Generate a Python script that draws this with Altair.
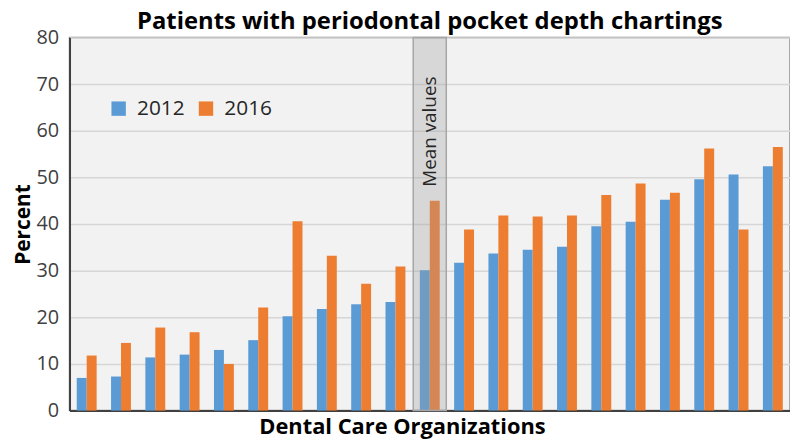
import altair as alt
import pandas as pd

categories = ["O1", "O2", "O3", "O4", "O5", "O6", "O7", "O8", "O9", "O10",
              "Mean values",
              "O11", "O12", "O13", "O14", "O15", "O16", "O17", "O18", "O19", "O20"]
values_2012 = [7.0, 7.3, 11.4, 12.0, 13.0, 15.1, 20.2, 21.8, 22.8, 23.3,
               30.1,
               31.7, 33.7, 34.5, 35.1, 39.5, 40.5, 45.2, 49.6, 50.6, 52.4]
values_2016 = [11.8, 14.5, 17.8, 16.8, 10.0, 22.1, 40.6, 33.2, 27.2, 30.9,
               45.0,
               38.8, 41.8, 41.6, 41.8, 46.2, 48.7, 46.7, 56.2, 38.8, 56.5]
years = ["2012", "2016"]
colors = ["#5b9bd5", "#ed7d31"]
mean_label = "Mean values"

rows = []
for c, a, b in zip(categories, values_2012, values_2016):
    rows.append({"org": c, "year": years[0], "pct": a})
    rows.append({"org": c, "year": years[1], "pct": b})
df = pd.DataFrame(rows)
band_df = pd.DataFrame({"org": [mean_label], "label": [mean_label]})

W, H = 726, 376
FONT = "Open Sans"

xenc = alt.X("org:N", sort=categories,
             scale=alt.Scale(paddingInner=0.42, paddingOuter=0.21),
             axis=alt.Axis(labels=False, ticks=False, domainColor="#404040", domainWidth=2,
                           title="Dental Care Organizations", titleFontSize=22,
                           titleFontWeight="bold", titleColor="#000000", titlePadding=6,
                           titleX=335, titleAlign="center", titleFont=FONT))

bars = alt.Chart(df).mark_bar().encode(
    x=xenc,
    xOffset=alt.XOffset("year:N", sort=years),
    y=alt.Y("pct:Q", scale=alt.Scale(domain=[0, 80]),
            axis=alt.Axis(values=[0, 10, 20, 30, 40, 50, 60, 70, 80], ticks=False,
                          labelFontSize=20, labelColor="#404040", labelPadding=11,
                          labelFont=FONT, gridColor="#d6d6d6", gridWidth=1.5,
                          domainColor="#404040", domainWidth=2,
                          title="Percent", titleFontSize=21, titleFontWeight="bold",
                          titleColor="#000000", titlePadding=2, titleFont=FONT)),
    color=alt.Color("year:N", sort=years,
                    scale=alt.Scale(domain=years, range=colors),
                    legend=alt.Legend(title=None, orient="none", direction="horizontal",
                                      legendX=39, legendY=61, symbolType="square",
                                      symbolSize=210, labelFontSize=21, labelFont=FONT,
                                      labelColor="#262626", symbolStrokeWidth=0,
                                      columnPadding=10, labelOffset=8)),
)

band = alt.Chart(band_df).mark_bar(
    width=alt.RelativeBandSize(band=1.66), fill="#a0a0a0", fillOpacity=0.32,
    stroke="#a6a6a6", strokeWidth=1.5
).encode(
    x=alt.X("org:N", sort=categories),
    y=alt.Y(datum=80),
    y2=alt.Y2(datum=0),
)

txt = alt.Chart(band_df).mark_text(
    angle=270, fontSize=19, font=FONT, color="#262626", align="center", baseline="middle"
).encode(
    x=alt.X("org:N", sort=categories),
    y=alt.Y(datum=59.8),
    text="label:N",
)

chart = alt.layer(bars, band, txt).properties(
    width=W, height=H,
    title=alt.Title("Patients with periodontal pocket depth chartings", fontSize=24,
                    font=FONT, fontWeight="bold", color="#000000", offset=-6),
    autosize=alt.AutoSizeParams(type="none"),
    padding={"left": 62, "top": 28, "right": 0, "bottom": 30},
).configure_view(
    fill="#f2f2f2", stroke="#8c8c8c", strokeWidth=1.5
)

chart.save("out.html", embed_options={"renderer": "svg", "actions": False})
